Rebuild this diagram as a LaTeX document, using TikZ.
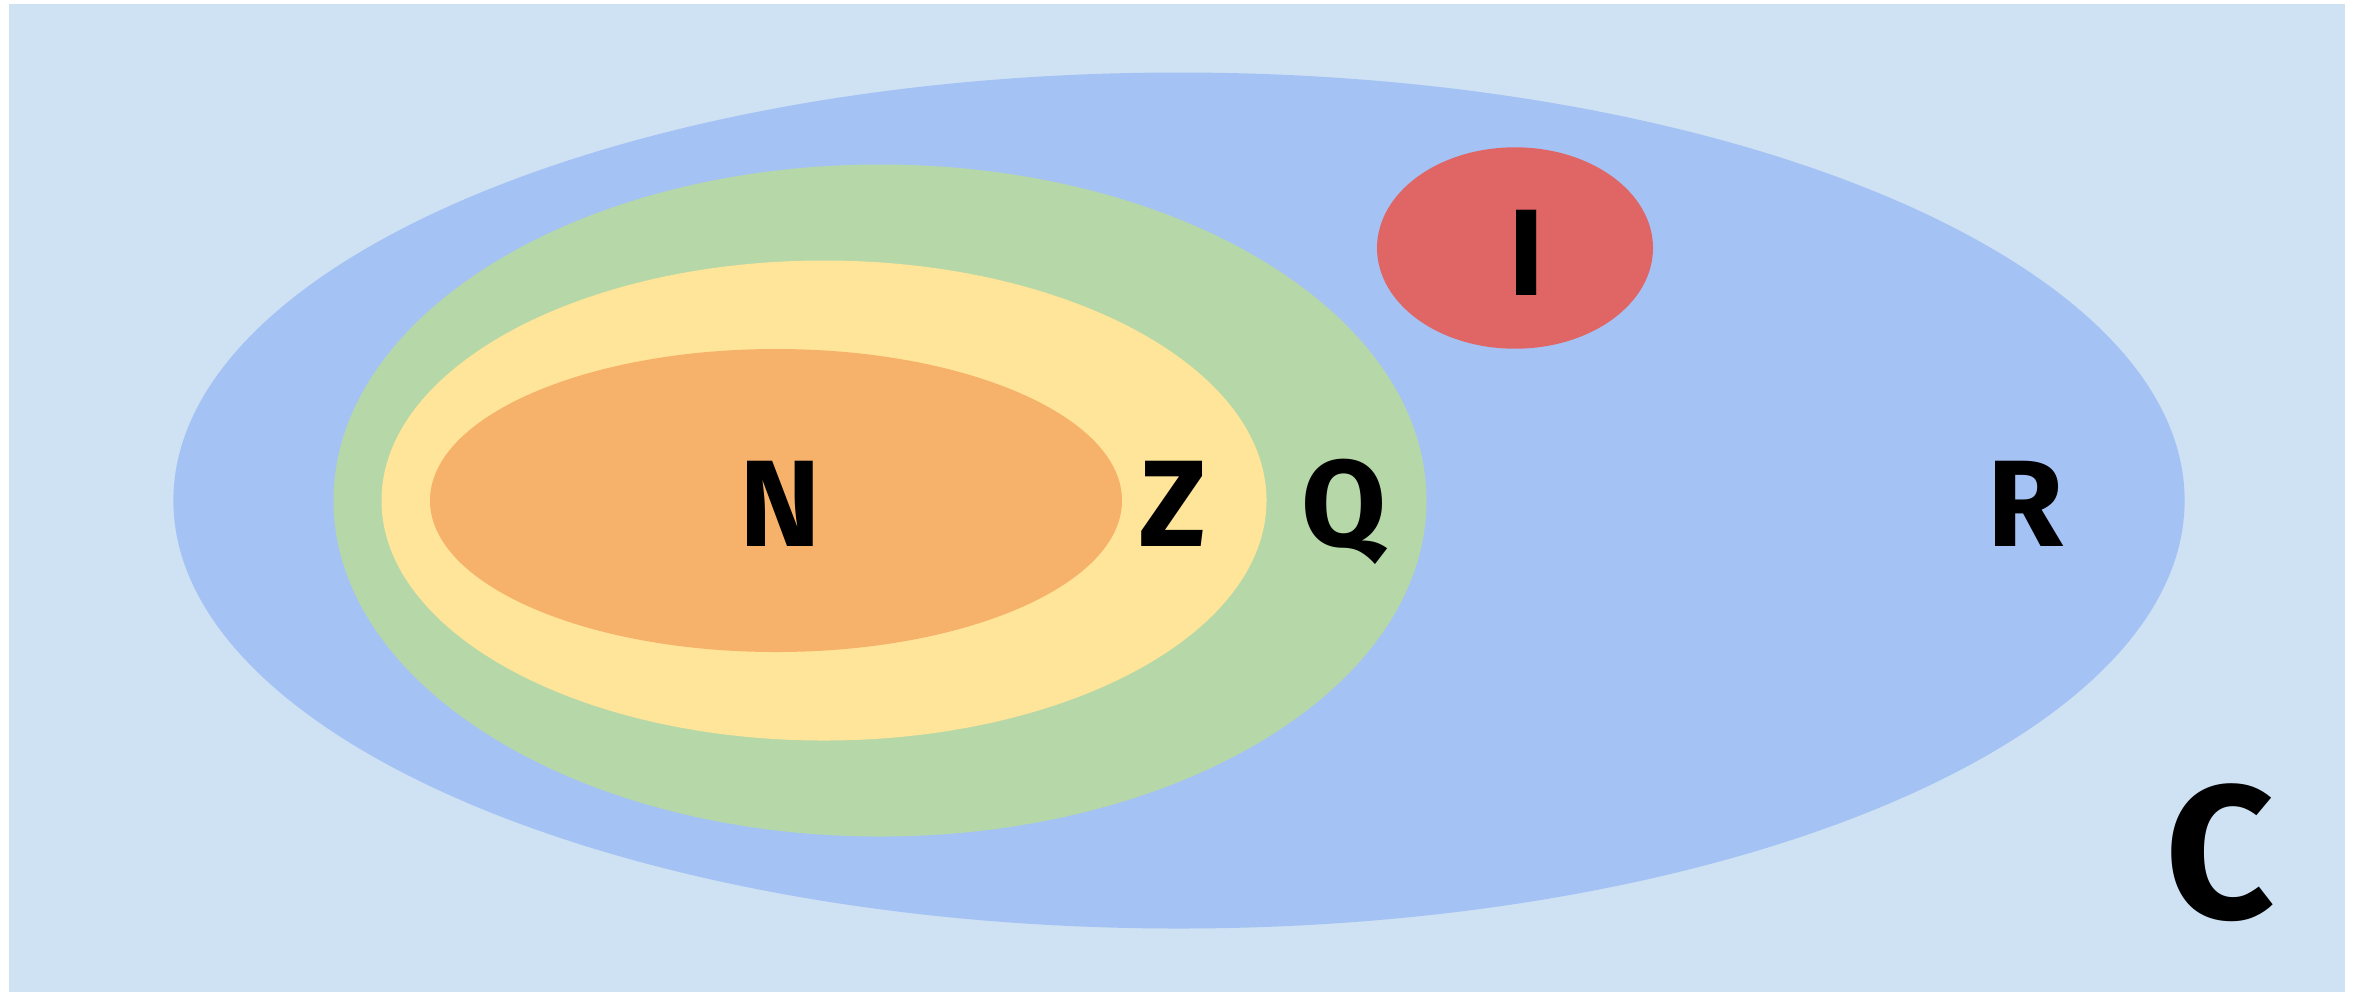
\documentclass[tikz,border=0pt]{standalone}
\usepackage{fontspec}
\setmainfont{Fira Sans}
\definecolor{bgC}{HTML}{CFE2F3}
\definecolor{colR}{HTML}{A4C2F4}
\definecolor{colQ}{HTML}{B6D7A8}
\definecolor{colZ}{HTML}{FFE599}
\definecolor{colN}{HTML}{F6B26B}
\definecolor{colI}{HTML}{E06666}
\begin{document}
\begin{tikzpicture}[x=0.01cm,y=-0.01cm,
  setlabel/.style={inner sep=0pt,anchor=base,font=\fontsize{35}{40}\selectfont\bfseries},
  biglabel/.style={inner sep=0pt,anchor=base,font=\fontsize{54}{60}\selectfont\bfseries}]
\useasboundingbox (0,0) rectangle (2364,993);
\fill[bgC] (9,4) rectangle (2345,992);
\fill[colR] (1179,500.5) ellipse [x radius=1005.6, y radius=428];
\fill[colQ] (880,500.5) ellipse [x radius=546.5, y radius=336];
\fill[colZ] (824,500.5) ellipse [x radius=442.5, y radius=240];
\fill[colN] (776,500.5) ellipse [x radius=346, y radius=151.5];
\fill[colI] (1515,248) ellipse [x radius=138, y radius=100.7];
\node[setlabel] (N) at (780,546) {N};
\node[setlabel] (Z) at (1173,546) {Z};
\node[setlabel] (Q) at (1344,546) {Q};
\node[setlabel] (R) at (2025,546) {R};
\node[setlabel] (I) at (1527,295) {I};
\node[biglabel] (C) at (2220,918) {C};
\end{tikzpicture}
\end{document}
